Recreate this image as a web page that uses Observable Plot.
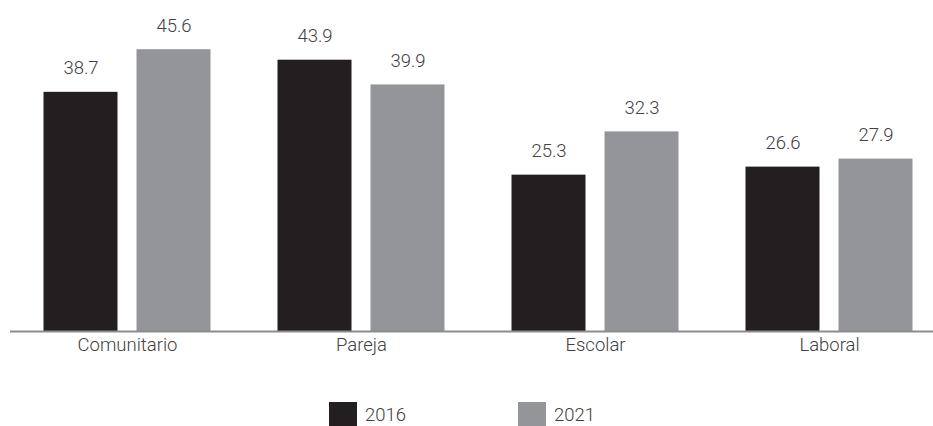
<!DOCTYPE html>
<html>
<head>
<meta charset="utf-8">
<script src="https://cdn.jsdelivr.net/npm/d3@7"></script>
<script src="https://cdn.jsdelivr.net/npm/@observablehq/plot@0.6"></script>
<style>
  html, body { margin: 0; padding: 0; background: #fff; overflow: hidden; }
  body { font-family: Roboto, "Noto Sans", sans-serif; }
  #legend { position: relative; height: 30px; margin-top: 22px; }
  .item { position: absolute; top: 0; display: flex; align-items: center; font-size: 18.5px; font-weight: 300; color: #414042; }
  .sw { width: 28px; height: 26px; margin-right: 8px; }
</style>
</head>
<body>
<div id="chart"></div>
<div id="legend"></div>
<script>
const categories = ["Comunitario", "Pareja", "Escolar", "Laboral"];
const years = ["2016", "2021"];
const values2016 = [38.7, 43.9, 25.3, 26.6];
const values2021 = [45.6, 39.9, 32.3, 27.9];
const colors = ["#231f20", "#939598"];

const data = categories.flatMap((c, i) => [
  {category: c, year: years[0], value: values2016[i]},
  {category: c, year: years[1], value: values2021[i]}
]);

const chart = Plot.plot({
  width: 933,
  height: 380,
  marginTop: 22,
  marginBottom: 49,
  marginLeft: 9.5,
  marginRight: -12.5,
  style: {fontFamily: "Roboto, 'Noto Sans', sans-serif", fontSize: "18.5px", fontWeight: 300, color: "#414042", overflow: "hidden"},
  fx: {domain: categories, padding: 0, label: null, axis: "bottom", tickSize: 0, tickPadding: 6},
  x: {domain: years, paddingInner: 0.2043, paddingOuter: 0.36, axis: null},
  y: {domain: [0, 50], axis: null},
  color: {domain: years, range: colors},
  marks: [
    Plot.barY(data, {fx: "category", x: "year", y: "value", fill: "year"}),
    Plot.text(data, {fx: "category", x: "year", y: "value", text: d => d.value.toFixed(1), lineAnchor: "bottom", dy: -18, fill: "#414042"}),
    Plot.ruleY([0], {stroke: "#8c8c8c", strokeWidth: 2})
  ]
});
document.getElementById("chart").append(chart);

const legend = document.getElementById("legend");
const legendLeft = [329, 518];
years.forEach((y, i) => {
  const item = document.createElement("div");
  item.className = "item";
  item.style.left = legendLeft[i] + "px";
  const sw = document.createElement("div");
  sw.className = "sw";
  sw.style.background = colors[i];
  const t = document.createElement("span");
  t.textContent = y;
  item.append(sw, t);
  legend.append(item);
});
</script>
</body>
</html>
